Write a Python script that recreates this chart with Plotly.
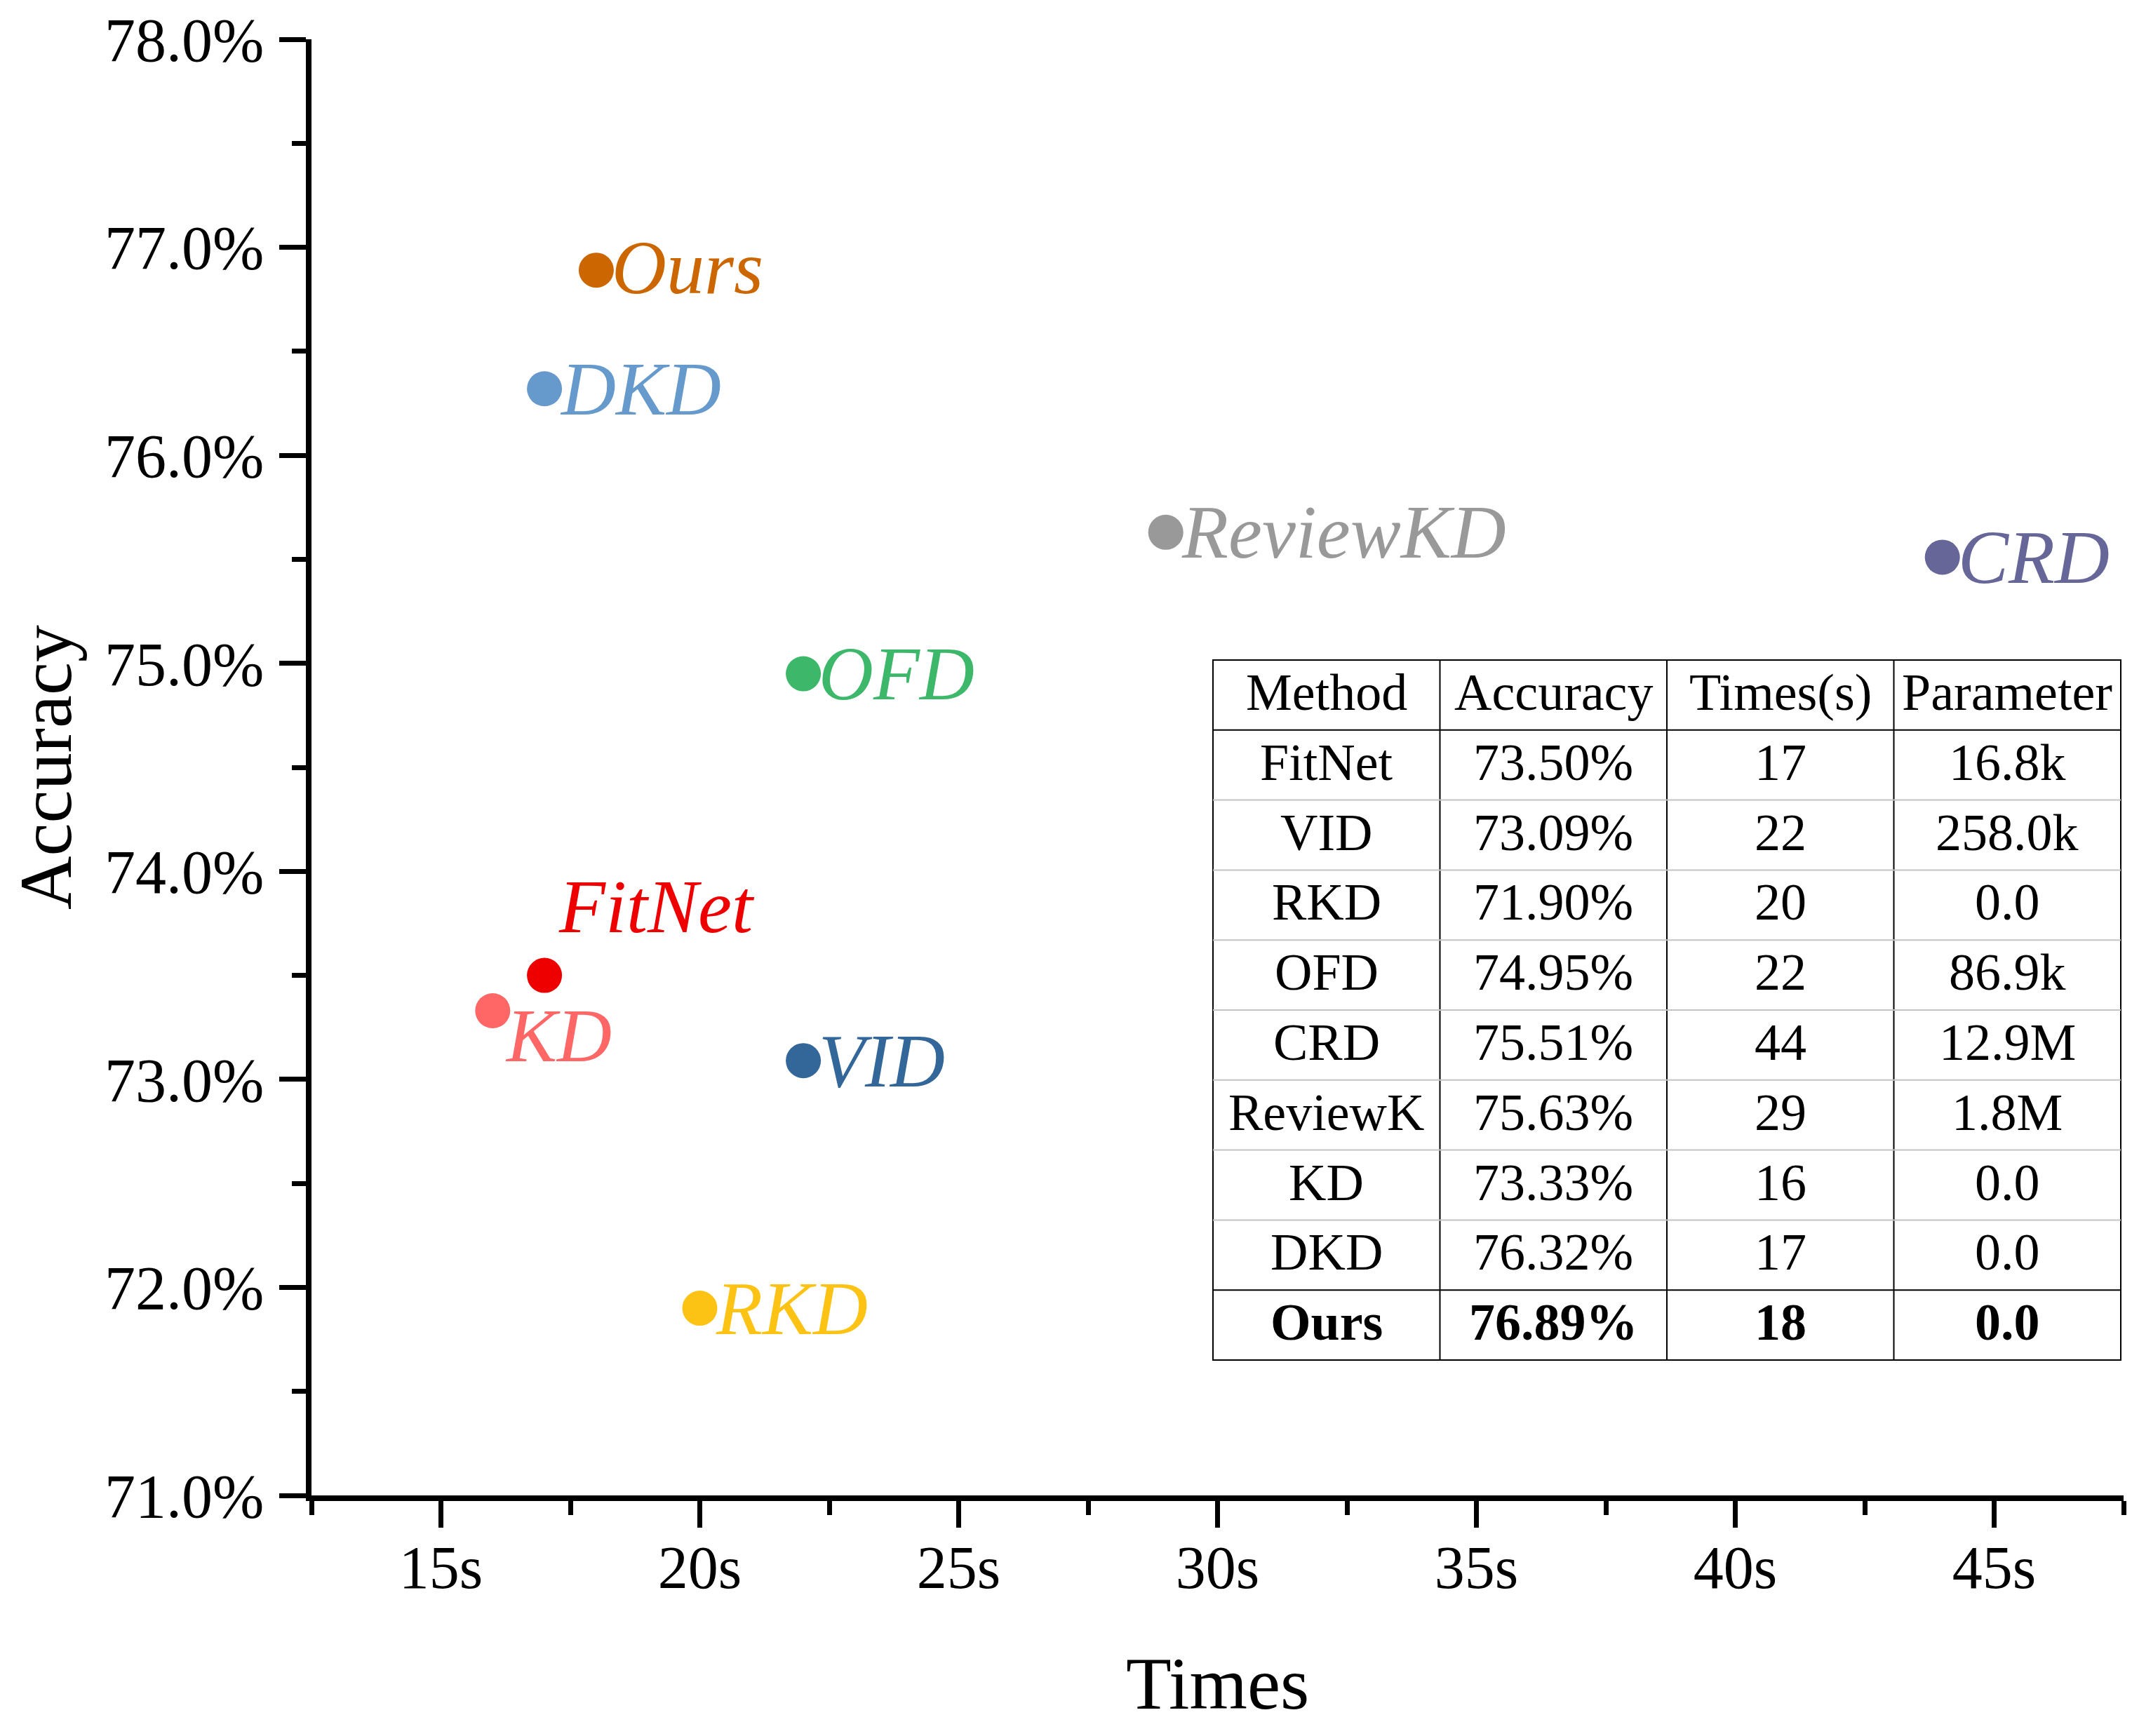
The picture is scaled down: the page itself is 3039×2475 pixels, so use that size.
import plotly.graph_objects as go

# ---------------- data ----------------
methods = ["Ours", "DKD", "ReviewKD", "CRD", "OFD", "FitNet", "KD", "VID", "RKD"]
times_s = [18, 17, 29, 44, 22, 17, 16, 22, 20]
accuracy = [76.89, 76.32, 75.63, 75.51, 74.95, 73.50, 73.33, 73.09, 71.90]

x_ticks = [15, 20, 25, 30, 35, 40, 45]
y_ticks = [71, 72, 73, 74, 75, 76, 77, 78]

table_header = ["Method", "Accuracy", "Times(s)", "Parameter"]
table_methods = ["FitNet", "VID", "RKD", "OFD", "CRD", "ReviewK", "KD", "DKD", "Ours"]
table_acc = ["73.50%", "73.09%", "71.90%", "74.95%", "75.51%", "75.63%", "73.33%", "76.32%", "76.89%"]
table_times = ["17", "22", "20", "22", "44", "29", "16", "17", "18"]
table_params = ["16.8k", "258.0k", "0.0", "86.9k", "12.9M", "1.8M", "0.0", "0.0", "0.0"]

# ---------------- styles ----------------
colors = {
    "Ours": "#CC6600", "DKD": "#6699CC", "ReviewKD": "#999999", "CRD": "#666699",
    "OFD": "#3DB86A", "FitNet": "#EE0000", "KD": "#FF6666", "VID": "#336699",
    "RKD": "#FDC314",
}
# label offsets (pixels) relative to marker
label_style = {
    "Ours": dict(xshift=20, yshift=4),
    "FitNet": dict(xshift=18, yshift=98),
    "KD": dict(xshift=16, yshift=-36),
}
default_label = dict(xshift=20, yshift=0)

FONT = "Liberation Serif, Times New Roman, serif"
OFF = 8  # default page body margin
PAGE_W, PAGE_H = 3039, 2475
W, H = PAGE_W - 2 * OFF, PAGE_H - 2 * OFF
# plot area in page pixels
L, R, T, B = 444, 3027, 56, 2132


def px_x(p):
    return (p - L) / (R - L)


def px_y(p):
    return (B - p) / (B - T)


fig = go.Figure()
fig.add_trace(go.Scatter(
    x=times_s, y=accuracy, mode="markers",
    marker=dict(size=50, color=[colors[m] for m in methods], line=dict(width=0)),
    hoverinfo="skip", showlegend=False, cliponaxis=False,
))

annotations = []
for m, xv, yv in zip(methods, times_s, accuracy):
    st = label_style.get(m, default_label)
    annotations.append(dict(
        x=xv, y=yv, xref="x", yref="y", text=m, showarrow=False,
        xanchor="left", yanchor="middle", xshift=st["xshift"], yshift=st["yshift"],
        font=dict(family=FONT, size=108, color=colors[m], style="italic"),
    ))

# axis titles
annotations.append(dict(
    x=0.5, y=px_y(2400), xref="paper", yref="paper", text="Times", showarrow=False,
    xanchor="center", yanchor="middle", font=dict(family=FONT, size=106, color="black"),
))
annotations.append(dict(
    x=px_x(65), y=0.5, xref="paper", yref="paper", text="Accuracy", showarrow=False,
    textangle=-90, xanchor="center", yanchor="middle",
    font=dict(family=FONT, size=106, color="black"),
))

# ---------------- table ----------------
TL, TR, TT, TB = 1729, 3023, 941, 1939
ncols = len(table_header)
rows = [table_header] + [list(r) for r in zip(table_methods, table_acc, table_times, table_params)]
nrows = len(rows)
cw = (TR - TL) / ncols
rh = (TB - TT) / nrows

shapes = []
line_black = dict(color="black", width=2)
line_gray = dict(color="#C4C4C4", width=2)
shapes.append(dict(type="rect", xref="paper", yref="paper",
                   x0=px_x(TL), x1=px_x(TR), y0=px_y(TT), y1=px_y(TB),
                   line=line_black, fillcolor="white", layer="below"))
for c in range(1, ncols):
    xp = px_x(TL + c * cw)
    shapes.append(dict(type="line", xref="paper", yref="paper",
                       x0=xp, x1=xp, y0=px_y(TT), y1=px_y(TB), line=line_black))
for r in range(1, nrows):
    yp = px_y(TT + r * rh)
    ln = line_black if (r == 1 or r == nrows - 1) else line_gray
    shapes.append(dict(type="line", xref="paper", yref="paper",
                       x0=px_x(TL), x1=px_x(TR), y0=yp, y1=yp, line=ln))

for r, row in enumerate(rows):
    for c, val in enumerate(row):
        txt = f"<b>{val}</b>" if r == nrows - 1 else val
        annotations.append(dict(
            x=px_x(TL + (c + 0.5) * cw), y=px_y(TT + (r + 0.5) * rh),
            xref="paper", yref="paper", text=txt, showarrow=False,
            xanchor="center", yanchor="middle", yshift=4,
            font=dict(family=FONT, size=74, color="black"),
        ))

axis_common = dict(
    showgrid=False, zeroline=False, showline=True, linecolor="black", linewidth=8,
    ticks="outside", ticklen=38, tickwidth=7, tickcolor="black",
    automargin=False,
)

fig.update_layout(
    width=W, height=H,
    margin=dict(l=L - OFF, r=W - (R - OFF), t=T - OFF, b=H - (B - OFF), pad=0),
    paper_bgcolor="white", plot_bgcolor="white",
    xaxis=dict(range=[12.5, 47.5], tickvals=x_ticks, ticktext=[f"{v}s" for v in x_ticks],
               minor=dict(ticks="outside", ticklen=20, tickwidth=7, tickcolor="black",
                          dtick=2.5, tick0=0),
               tickfont=dict(family=FONT, size=86, color="black"),
               ticklabelstandoff=-17, **axis_common),
    yaxis=dict(range=[71, 78], tickvals=y_ticks, ticktext=[f"{v:.1f}%" for v in y_ticks],
               minor=dict(ticks="outside", ticklen=20, tickwidth=7, tickcolor="black",
                          dtick=0.5, tick0=0),
               tickfont=dict(family=FONT, size=88, color="black"),
               ticklabelstandoff=4, **axis_common),
    annotations=annotations,
    shapes=shapes,
    showlegend=False,
)

fig.write_html("out.html")
